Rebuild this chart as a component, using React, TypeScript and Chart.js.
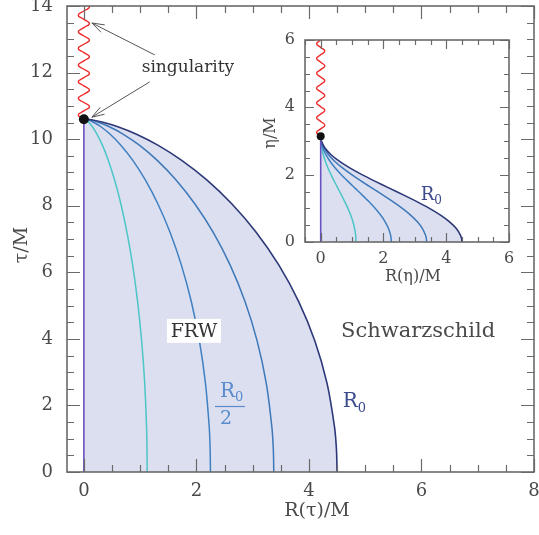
import React, { useEffect, useRef } from 'react';
import { Chart, registerables } from 'chart.js';

Chart.register(...registerables);

// ---- data ----
// conformal time eta/M (inset y) and proper time tau/M (main y) along the collapse
const etaValues = [0, 0.1, 0.2, 0.4, 0.6, 0.8, 1.0, 1.2, 1.4, 1.6, 1.8, 2.0, 2.2, 2.4, 2.6, 2.8, 3.0, 3.1416];
const tauValues = [0, 0.674, 1.346, 2.664, 3.931, 5.121, 6.215, 7.196, 8.051, 8.774, 9.362, 9.819, 10.154, 10.38, 10.515, 10.581, 10.601, 10.603];
// areal radius R/M of four dust shells (R0, 3R0/4, R0/2, R0/4)
const radiusR0 = [4.5, 4.489, 4.455, 4.322, 4.107, 3.818, 3.466, 3.065, 2.632, 2.184, 1.739, 1.314, 0.926, 0.591, 0.322, 0.13, 0.023, 0];
const radius3Q = [3.375, 3.367, 3.341, 3.242, 3.08, 2.864, 2.6, 2.299, 1.974, 1.638, 1.304, 0.986, 0.695, 0.443, 0.242, 0.098, 0.017, 0];
const radiusHalf = [2.25, 2.244, 2.228, 2.161, 2.054, 1.909, 1.733, 1.533, 1.316, 1.092, 0.87, 0.657, 0.463, 0.296, 0.161, 0.065, 0.011, 0];
const radiusQ = [1.125, 1.122, 1.114, 1.081, 1.027, 0.955, 0.867, 0.766, 0.658, 0.546, 0.435, 0.329, 0.232, 0.148, 0.081, 0.033, 0.006, 0];
// singularity (wavy line) in the main plot
const singMainTau = [10.6, 10.725, 10.85, 10.975, 11.1, 11.225, 11.35, 11.475, 11.6, 11.725, 11.85, 11.975, 12.1, 12.225, 12.35, 12.475, 12.6, 12.725, 12.85, 12.975, 13.1, 13.225, 13.35, 13.475, 13.6, 13.725, 13.85, 13.975, 14.1];
const singMainR = [0, -0.1, 0, 0.1, 0, -0.1, 0, 0.1, 0, -0.1, 0, 0.1, 0, -0.1, 0, 0.1, 0, -0.1, 0, 0.1, 0, -0.1, 0, 0.1, 0, -0.1, 0, 0.1, 0];
// singularity in the inset
const singInsetEta = [3.14, 3.25, 3.36, 3.47, 3.58, 3.69, 3.8, 3.91, 4.02, 4.13, 4.24, 4.35, 4.46, 4.57, 4.68, 4.79, 4.9, 5.01, 5.12, 5.23, 5.34, 5.45, 5.56, 5.67, 5.78, 5.89, 6.0];
const singInsetR = [0, -0.13, 0, 0.13, 0, -0.13, 0, 0.13, 0, -0.13, 0, 0.13, 0, -0.13, 0, 0.13, 0, -0.13, 0, 0.13, 0, -0.13, 0, 0.13, 0, -0.13, 0];
const collapseTau = 10.6;
const collapseEta = 3.14;
// tick labels
const mainXTicks = [0, 2, 4, 6, 8];
const mainYTicks = [0, 2, 4, 6, 8, 10, 12, 14];
const insetXTicks = [0, 2, 4, 6];
const insetYTicks = [0, 2, 4, 6];

// ---- styles ----
const FONT = '"DejaVu Serif", serif';
const C_R0 = '#2c3878';
const C_3Q = '#3d78b8';
const C_HALF = '#3f80c2';
const C_Q = '#4cc6c6';
const C_FILL = '#dcdff0';
const C_AXIS = '#6a6a6a';
const C_TEXT = '#4a4a4a';

const zip = (xs: number[], ys: number[]) => xs.map((v, i) => ({ x: v, y: ys[i] }));

function frameTicks(id: string, majorLen: number, minorLen: number) {
  return {
    id,
    afterDraw(chart: any) {
      const { ctx, chartArea: a, scales } = chart;
      const xs = scales.x;
      const ys = scales.y;
      ctx.save();
      ctx.strokeStyle = C_AXIS;
      ctx.lineWidth = 1.2;
      ctx.beginPath();
      const step = 0.5;
      for (let k = Math.ceil(xs.min / step); k * step <= xs.max + 1e-9; k++) {
        const v = k * step;
        const p = Math.round(xs.getPixelForValue(v)) + 0.5;
        const len = k % 4 === 0 ? majorLen : minorLen;
        ctx.moveTo(p, a.bottom); ctx.lineTo(p, a.bottom - len);
        ctx.moveTo(p, a.top); ctx.lineTo(p, a.top + len);
      }
      for (let k = Math.ceil(ys.min / step); k * step <= ys.max + 1e-9; k++) {
        const v = k * step;
        const p = Math.round(ys.getPixelForValue(v)) + 0.5;
        const len = k % 4 === 0 ? majorLen : minorLen;
        ctx.moveTo(a.left, p); ctx.lineTo(a.left + len, p);
        ctx.moveTo(a.right, p); ctx.lineTo(a.right - len, p);
      }
      ctx.stroke();
      ctx.lineWidth = 1.6;
      ctx.strokeRect(a.left, a.top, a.right - a.left, a.bottom - a.top);
      ctx.restore();
    },
  };
}

function arrow(ctx: CanvasRenderingContext2D, x0: number, y0: number, x1: number, y1: number) {
  const ang = Math.atan2(y1 - y0, x1 - x0);
  const L = 13;
  const w = 0.32;
  ctx.beginPath();
  ctx.moveTo(x0, y0);
  ctx.lineTo(x1, y1);
  ctx.moveTo(x1 - L * Math.cos(ang - w), y1 - L * Math.sin(ang - w));
  ctx.lineTo(x1, y1);
  ctx.lineTo(x1 - L * Math.cos(ang + w), y1 - L * Math.sin(ang + w));
  ctx.stroke();
}

const mainAnnot = {
  id: 'mainAnnot',
  afterDraw(chart: any) {
    const { ctx, chartArea: a, scales } = chart;
    const px = (v: number) => scales.x.getPixelForValue(v);
    const py = (v: number) => scales.y.getPixelForValue(v);
    ctx.save();
    // axis titles
    ctx.fillStyle = C_TEXT;
    ctx.font = `19px ${FONT}`;
    ctx.textAlign = 'center';
    ctx.textBaseline = 'middle';
    ctx.fillText('R(τ)/M', 317, 511);
    ctx.save();
    ctx.translate(22, (a.top + a.bottom) / 2 + 6);
    ctx.rotate(-Math.PI / 2);
    ctx.fillText('τ/M', 0, 0);
    ctx.restore();
    // singularity label & arrows
    ctx.fillStyle = '#333';
    ctx.font = `17px ${FONT}`;
    ctx.fillText('singularity', px(1.85), py(12.14));
    ctx.strokeStyle = '#555';
    ctx.lineWidth = 1;
    arrow(ctx, px(1.26), py(12.53), px(0.142), py(13.49));
    arrow(ctx, px(1.17), py(11.72), px(0.142), py(10.66));
    // FRW boxed
    const fx = px(1.956);
    const fy = py(4.24);
    ctx.fillStyle = '#ffffff';
    ctx.fillRect(fx - 27, fy - 12, 54, 24);
    ctx.fillStyle = '#333';
    ctx.font = `19px ${FONT}`;
    ctx.fillText('FRW', fx, fy + 1);
    // Schwarzschild
    ctx.fillStyle = C_TEXT;
    ctx.font = `21px ${FONT}`;
    ctx.fillText('Schwarzschild', px(5.94), py(4.21));
    // R0 label
    ctx.textAlign = 'left';
    ctx.textBaseline = 'alphabetic';
    ctx.fillStyle = '#3c4a8e';
    ctx.font = `20px ${FONT}`;
    let rx = px(4.6);
    let ry = py(1.95);
    ctx.fillText('R', rx, ry);
    let rw = ctx.measureText('R').width;
    ctx.font = `13px ${FONT}`;
    ctx.fillText('0', rx + rw, ry + 5);
    // R0/2 label
    ctx.fillStyle = '#5a8ccc';
    ctx.font = `20px ${FONT}`;
    rx = px(2.418);
    ry = py(2.253);
    ctx.fillText('R', rx, ry);
    rw = ctx.measureText('R').width;
    ctx.font = `13px ${FONT}`;
    ctx.fillText('0', rx + rw, ry + 4);
    ctx.strokeStyle = '#5a8ccc';
    ctx.lineWidth = 1.2;
    ctx.beginPath();
    ctx.moveTo(rx - 5, ry + 9.5);
    ctx.lineTo(rx + 25, ry + 9.5);
    ctx.stroke();
    ctx.font = `19px ${FONT}`;
    ctx.fillText('2', rx, ry + 27);
    ctx.restore();
  },
};

const insetAnnot = {
  id: 'insetAnnot',
  afterDraw(chart: any) {
    const { ctx, scales } = chart;
    const px = (v: number) => scales.x.getPixelForValue(v);
    const py = (v: number) => scales.y.getPixelForValue(v);
    ctx.save();
    ctx.fillStyle = C_TEXT;
    ctx.font = `16px ${FONT}`;
    ctx.textAlign = 'center';
    ctx.textBaseline = 'middle';
    ctx.fillText('R(η)/M', 153, 249);
    ctx.save();
    ctx.translate(11, 105);
    ctx.rotate(-Math.PI / 2);
    ctx.fillText('η/M', 0, 0);
    ctx.restore();
    ctx.textAlign = 'left';
    ctx.textBaseline = 'alphabetic';
    ctx.fillStyle = '#3c4a8e';
    ctx.font = `18px ${FONT}`;
    const rx = px(3.19);
    const ry = py(1.26);
    ctx.fillText('R', rx, ry);
    const rw = ctx.measureText('R').width;
    ctx.font = `12px ${FONT}`;
    ctx.fillText('0', rx + rw, ry + 4);
    ctx.restore();
  },
};

function lineSet(data: any[], color: string, width: number, extra: any = {}) {
  return {
    data,
    showLine: true,
    borderColor: color,
    borderWidth: width,
    pointRadius: 0,
    fill: false,
    tension: 0,
    ...extra,
  };
}

function makeDatasets(ys: number[], singR: number[], singY: number[], tip: number, dotR: number) {
  return [
    { data: [{ x: 0, y: tip }], pointRadius: dotR, pointBackgroundColor: '#111', pointBorderWidth: 0, showLine: false },
    lineSet(zip(singR, singY), '#f02a2a', 1.4, { tension: 0.5 }),
    lineSet([{ x: 0, y: 0 }, { x: 0, y: tip }], '#6a50c0', 1.6),
    lineSet(zip(radiusR0, ys), C_R0, 1.6, { fill: 'origin', backgroundColor: C_FILL, tension: 0.3 }),
    lineSet(zip(radius3Q, ys), C_3Q, 1.5, { tension: 0.3 }),
    lineSet(zip(radiusHalf, ys), C_HALF, 1.5, { tension: 0.3 }),
    lineSet(zip(radiusQ, ys), C_Q, 1.5, { tension: 0.3 }),
  ];
}

function axis(min: number, max: number, ticks: number[], size: number, pad: number, fit: (s: any) => void) {
  return {
    type: 'linear',
    min,
    max,
    grid: { display: false, drawTicks: false },
    border: { display: false },
    afterBuildTicks: (s: any) => {
      s.ticks = ticks.map((v) => ({ value: v }));
    },
    afterFit: (s: any) => {
      fit(s);
      s.paddingLeft = 0;
      s.paddingRight = 0;
      s.paddingTop = 0;
      s.paddingBottom = 0;
    },
    ticks: {
      autoSkip: false,
      maxRotation: 0,
      padding: pad,
      color: C_TEXT,
      font: { family: FONT, size },
    },
  };
}

export default function App() {
  const mainRef = useRef<HTMLCanvasElement>(null);
  const insetRef = useRef<HTMLCanvasElement>(null);

  useEffect(() => {
    document.body.style.margin = '0';
    const common = {
      animation: false,
      responsive: false,
      events: [],
      plugins: { legend: { display: false }, tooltip: { enabled: false }, filler: { drawTime: 'beforeDatasetsDraw' } },
    };
    const main = new Chart(mainRef.current as HTMLCanvasElement, {
      type: 'scatter',
      data: { datasets: makeDatasets(tauValues, singMainR, singMainTau, collapseTau, 5) as any },
      options: {
        ...common,
        layout: { padding: { left: 0, right: 5, top: 6, bottom: 0 } },
        scales: {
          x: axis(-0.3, 8, mainXTicks, 18, 9, (s) => { s.height = 63; }),
          y: axis(0, 14, mainYTicks, 18, 14, (s) => { s.width = 67; }),
        },
      } as any,
      plugins: [frameTicks('mainFrame', 13, 7), mainAnnot],
    });
    const inset = new Chart(insetRef.current as HTMLCanvasElement, {
      type: 'scatter',
      data: { datasets: makeDatasets(etaValues, singInsetR, singInsetEta, collapseEta, 4) as any },
      options: {
        ...common,
        layout: { padding: { left: 0, right: 13, top: 12, bottom: 0 } },
        scales: {
          x: axis(-0.5, 6, insetXTicks, 16, 7, (s) => { s.height = 48; }),
          y: axis(0, 6, insetYTicks, 16, 10, (s) => { s.width = 45; }),
        },
      } as any,
      plugins: [frameTicks('insetFrame', 9, 5), insetAnnot],
    });
    return () => {
      main.destroy();
      inset.destroy();
    };
  }, []);

  return (
    <div style={{ position: 'relative', width: 539, height: 535, background: '#fff' }}>
      <canvas ref={mainRef} width={539} height={535} style={{ position: 'absolute', left: 0, top: 0 }} />
      <canvas ref={insetRef} width={262} height={262} style={{ position: 'absolute', left: 260, top: 28 }} />
    </div>
  );
}
